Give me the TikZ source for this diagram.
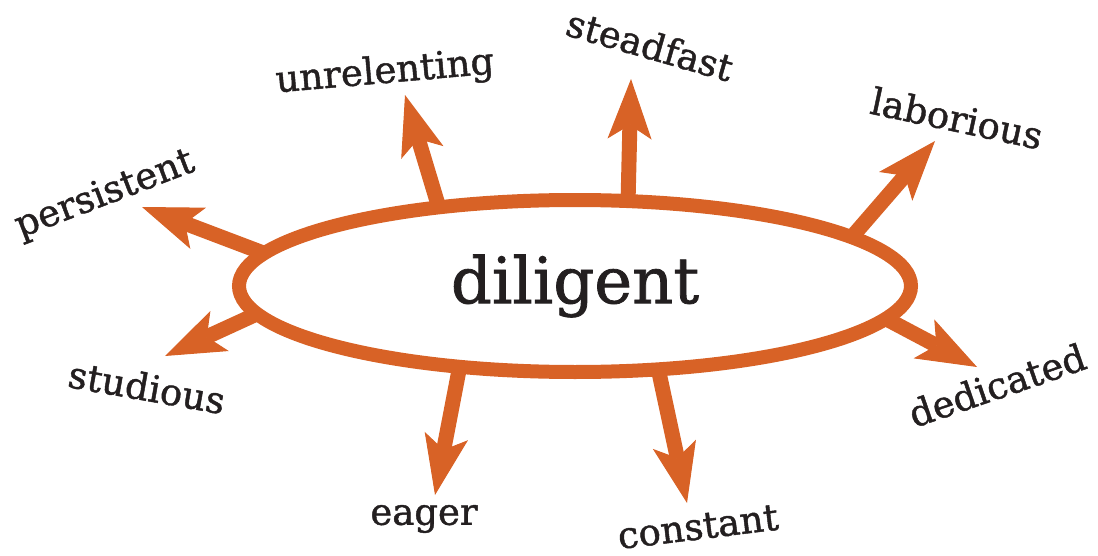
\documentclass[tikz,border=0pt]{standalone}
\usepackage{fontspec}
\setmainfont{DejaVu Serif}
\newfontfamily\slabfont{DejaVu Serif}[FakeBold=1.2]
\usetikzlibrary{arrows.meta,shapes.geometric}
\definecolor{dilorange}{RGB}{216,98,38}
\definecolor{inkblack}{RGB}{35,31,32}

\begin{document}
\begin{tikzpicture}[
  x=0.5pt,y=-0.5pt,
  hub/.style={ellipse,draw=dilorange,line width=7pt,outer sep=0,inner sep=0,
    minimum width=336pt,minimum height=86pt,text=inkblack,
    font=\slabfont\fontsize{32}{36}\selectfont},
  word/.style={text=inkblack,inner sep=0,font=\slabfont\fontsize{18.5}{20}\selectfont},
  spoke/.style={draw=dilorange,line width=7.5pt,
    -{Stealth[length=30pt,width=22pt,inset=7pt,line width=0.5pt]}},
]
  \useasboundingbox (0,0) rectangle (1098,556);
  \node[hub] (hub) at (575,286) {diligent};
  \foreach \n/\a/\tx/\ty/\lx/\ly/\r in {steadfast/58/631/79/650/45/-16,
      unrelenting/150/405/95/385/73/5,persistent/174/142/207/105/195/21,
      laborious/10/935/141/957/118/-12,dedicated/-6/977/367/997/385/19,
      constant/-45/687/503/698/527/7,eager/215/435/495/424/519/0,
      studious/185/165/356/147/387/-10}
  {
    \coordinate (\n-tip) at (\tx,\ty);
    \draw[spoke] (hub.\a) -- (\n-tip);
    \node[word,rotate=\r] (\n) at (\lx,\ly) {\n};
  }
\end{tikzpicture}
\end{document}
